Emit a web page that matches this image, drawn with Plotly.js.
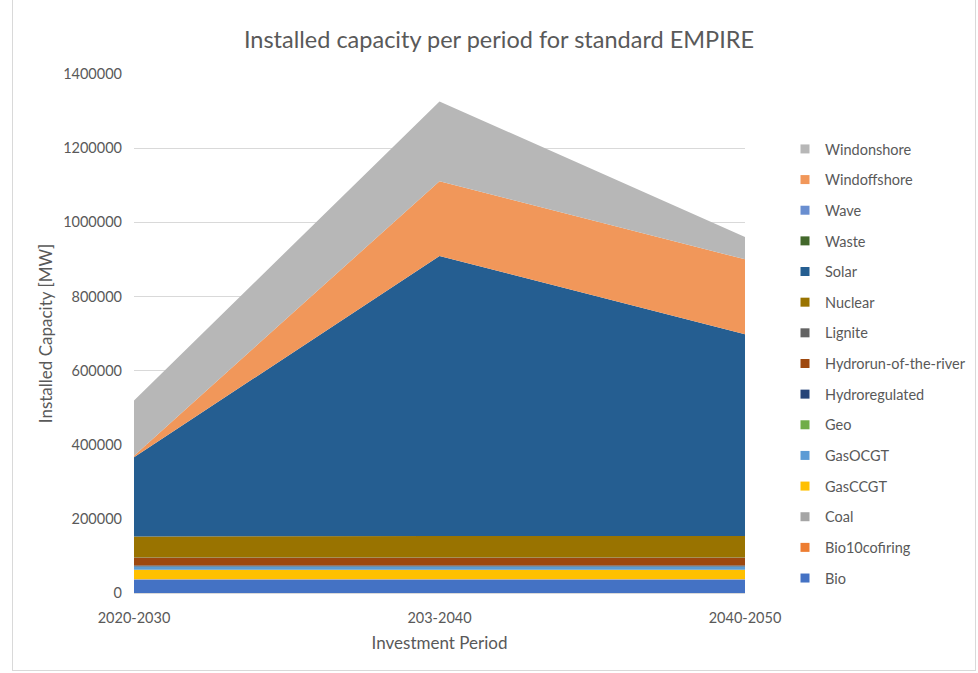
<!DOCTYPE html>
<html>
<head>
<meta charset="utf-8">
<script src="https://cdn.plot.ly/plotly-3.0.1.min.js"></script>
<style>
  html, body { margin: 0; padding: 0; background: #ffffff; }
  #frame { position: absolute; left: 12px; top: -1px; width: 964px; height: 672px; border: 1px solid #d9d9d9; box-sizing: border-box; }
  #chart { position: absolute; left: 0; top: 0; width: 978px; height: 673px; }
</style>
</head>
<body>
<div id="frame"></div>
<div id="chart"></div>
<script>
// Investment periods
const periods = ["2020-2030", "203-2040", "2040-2050"];

// Installed capacity per technology [MW], stacked bottom to top
const bio            = [35000, 35000, 35000];
const bio10cofiring  = [1000, 1000, 1000];
const coal           = [1500, 1500, 1500];
const gasCCGT        = [25000, 25000, 25000];
const gasOCGT        = [8000, 8000, 8000];
const geo            = [1000, 1000, 1000];
const hydroregulated = [3000, 3000, 3000];
const hydrorun       = [20000, 20000, 20000];
const lignite        = [1000, 1000, 1000];
const nuclear        = [57000, 58000, 58500];
const solar          = [214000, 755500, 544000];
const waste          = [0, 0, 0];
const wave           = [0, 0, 0];
const windoffshore   = [4000, 202000, 202000];
const windonshore    = [149000, 215000, 60000];

const series = [
  { name: "Bio",                   y: bio,            color: "#4472C4" },
  { name: "Bio10cofiring",         y: bio10cofiring,  color: "#ED7D31" },
  { name: "Coal",                  y: coal,           color: "#A5A5A5" },
  { name: "GasCCGT",               y: gasCCGT,        color: "#FFC000" },
  { name: "GasOCGT",               y: gasOCGT,        color: "#5B9BD5" },
  { name: "Geo",                   y: geo,            color: "#70AD47" },
  { name: "Hydroregulated",        y: hydroregulated, color: "#264478" },
  { name: "Hydrorun-of-the-river", y: hydrorun,       color: "#9E480E" },
  { name: "Lignite",               y: lignite,        color: "#636363" },
  { name: "Nuclear",               y: nuclear,        color: "#997300" },
  { name: "Solar",                 y: solar,          color: "#255E91" },
  { name: "Waste",                 y: waste,          color: "#43682B" },
  { name: "Wave",                  y: wave,           color: "#698ED0" },
  { name: "Windoffshore",          y: windoffshore,   color: "#F1975A" },
  { name: "Windonshore",           y: windonshore,    color: "#B7B7B7" }
];

const traces = [];
// Stacked areas
series.forEach(s => {
  traces.push({
    type: "scatter",
    x: periods,
    y: s.y,
    name: s.name,
    stackgroup: "cap",
    mode: "none",
    fillcolor: s.color,
    line: { width: 0 },
    showlegend: false,
    legendgroup: s.name,
    hoverinfo: "x+y+name"
  });
});
// Square legend keys, top of the stack listed first
series.slice().reverse().forEach(s => {
  traces.push({
    type: "scatter",
    x: [null],
    y: [null],
    name: s.name,
    mode: "markers",
    marker: { symbol: "square", size: 9, color: s.color },
    showlegend: true,
    legendgroup: s.name,
    hoverinfo: "skip"
  });
});

const font = "Lato, 'Open Sans', sans-serif";
const textColor = "#595959";

const layout = {
  width: 978,
  height: 673,
  paper_bgcolor: "rgba(0,0,0,0)",
  plot_bgcolor: "rgba(0,0,0,0)",
  margin: { l: 134, r: 233, t: 74, b: 80, autoexpand: false },
  font: { family: font, size: 14, color: textColor },
  title: {
    text: "Installed capacity per period for standard EMPIRE",
    font: { family: font, size: 23.5, color: textColor },
    x: 499 / 978,
    xanchor: "center",
    y: 1 - 40 / 673,
    yanchor: "middle"
  },
  xaxis: {
    type: "category",
    range: [0, 2],
    showgrid: false,
    showline: true,
    linecolor: "#d9d9d9",
    linewidth: 1,
    ticks: "",
    ticklabelstandoff: 12,
    tickfont: { family: font, size: 14.5, color: textColor },
    title: { text: "Investment Period", font: { family: font, size: 17, color: textColor }, standoff: 11 },
    automargin: false,
    fixedrange: true
  },
  yaxis: {
    range: [0, 1400000],
    dtick: 200000,
    tickformat: "d",
    showgrid: true,
    gridcolor: "#d9d9d9",
    gridwidth: 1,
    zeroline: false,
    showline: false,
    ticks: "",
    ticklabelstandoff: 11,
    tickfont: { family: font, size: 14.5, color: textColor },
    title: { text: "Installed Capacity [MW]", font: { family: font, size: 17, color: textColor }, standoff: 6 },
    automargin: false,
    fixedrange: true
  },
  legend: {
    x: (785 - 134) / 611,
    xanchor: "left",
    y: 1 - (133 - 74) / 519,
    yanchor: "top",
    traceorder: "grouped",
    tracegroupgap: 8.8,
    font: { family: font, size: 14.5, color: textColor },
    bgcolor: "rgba(0,0,0,0)"
  },
  showlegend: true
};

Plotly.newPlot("chart", traces, layout, { displayModeBar: false, staticPlot: true });
</script>
</body>
</html>
